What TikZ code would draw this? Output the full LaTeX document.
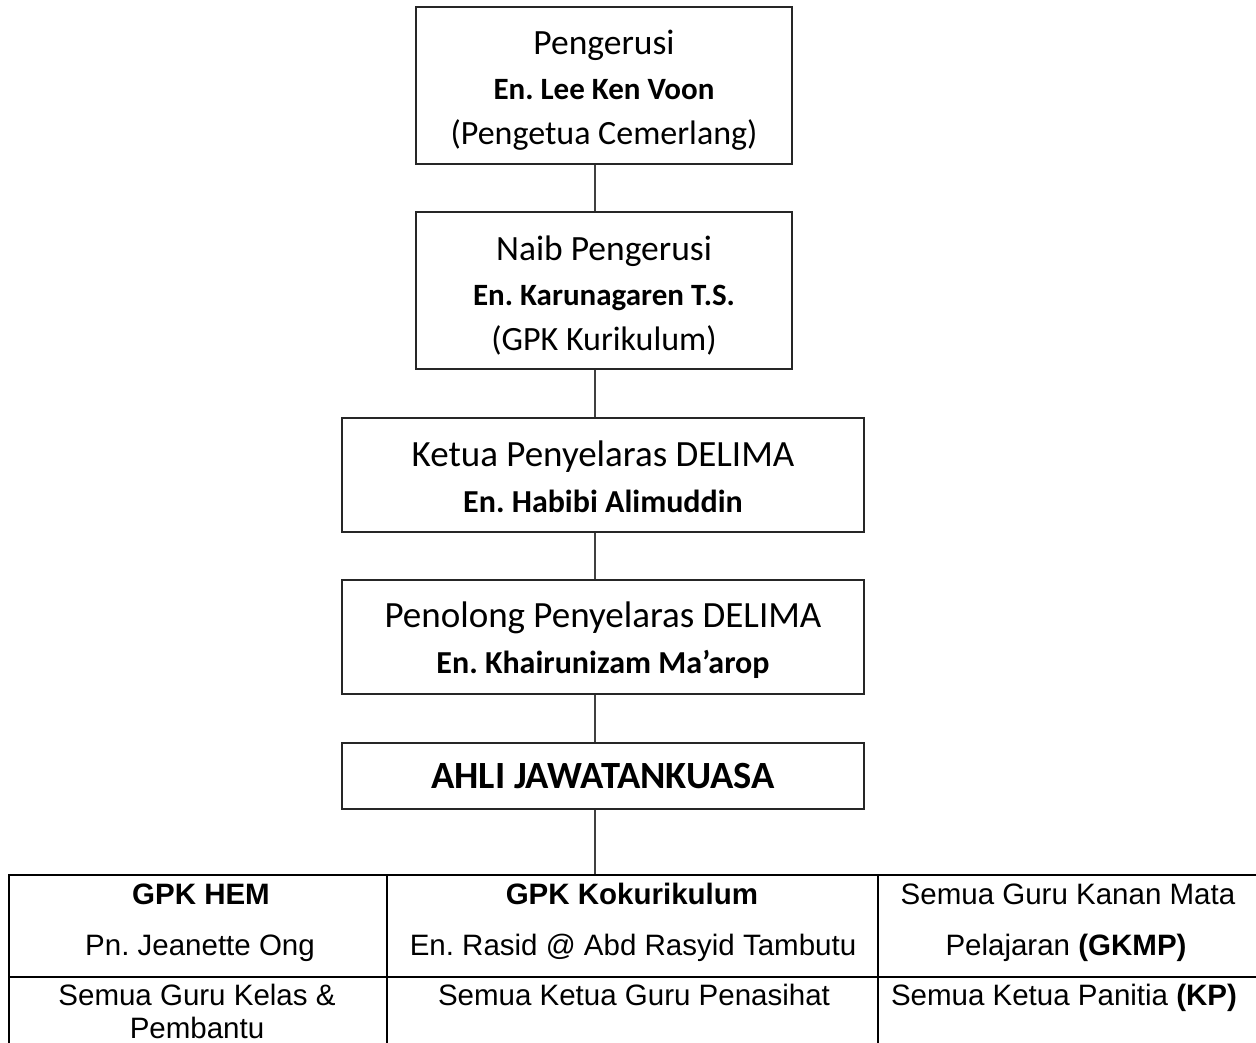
\documentclass[tikz,border=0pt]{standalone}
\usepackage{fontspec}
\setmainfont{Carlito}
\newfontfamily\tabfont{Liberation Sans}
\frenchspacing
\begin{document}
\frenchspacing
\begin{tikzpicture}[x=1pt,y=-1pt,
  box/.style={draw=black!85, line width=1.4pt, inner sep=0pt},
  btxt/.style={align=center, inner sep=0pt, font=\fontsize{31}{45}\selectfont},
  link/.style={draw=black!75, line width=1.2pt},
  cell/.style={draw=black, line width=2pt, inner sep=0pt},
  ttxt/.style={font=\tabfont\fontsize{29.5}{30}\selectfont, anchor=base, inner sep=0pt}]
\useasboundingbox (0,0) rectangle (1256,1043);
\clip (0,0) rectangle (1256,1043);
\fill[white] (0,0) rectangle (1256,1043);
\coordinate (lx) at (595,0);
% boxes
\node[box, minimum width=376, minimum height=157] (b1) at (604,85.5) {};
\node[btxt] (b1t) at (604,90)
  {{\fontsize{35.5}{45}\selectfont Pengerusi}\\ \textbf{En. Lee Ken Voon}\\ {\fontsize{34}{45}\selectfont (Pengetua Cemerlang)}};
\node[box, minimum width=376, minimum height=157] (b2) at (604,290.5) {};
\node[btxt] (b2t) at (604,295.5)
  {{\fontsize{35.5}{45}\selectfont Naib Pengerusi}\\ \textbf{En. Karunagaren T.S.}\\ {\fontsize{34}{45}\selectfont (GPK Kurikulum)}};
\node[box, minimum width=522, minimum height=114] (b3) at (603,475) {};
\node[btxt, font=\fontsize{32}{46}\selectfont] (b3t) at (603,476.5)
  {{\fontsize{37}{46}\selectfont Ketua Penyelaras DELIMA}\\ \textbf{En. Habibi Alimuddin}};
\node[box, minimum width=522, minimum height=114] (b4) at (603,637) {};
\node[btxt, font=\fontsize{32}{46}\selectfont] (b4t) at (603,640.5)
  {{\fontsize{37}{46}\selectfont Penolong Penyelaras DELIMA}\\ \textbf{En. Khairunizam Ma’arop}};
\node[box, minimum width=522, minimum height=66, font=\fontsize{38.5}{40}\selectfont\bfseries] (b5) at (603,776)
  {AHLI JAWATANKUASA};
% table cells
\node[cell, minimum width=378, minimum height=102] (c11) at (198,926) {};
\node[cell, minimum width=491, minimum height=102] (c12) at (632.5,926) {};
\node[cell, minimum width=384, minimum height=102] (c13) at (1070,926) {};
\node[cell, minimum width=378, minimum height=80] (c21) at (198,1017) {};
\node[cell, minimum width=491, minimum height=80] (c22) at (632.5,1017) {};
\node[cell, minimum width=384, minimum height=80] (c23) at (1070,1017) {};
% table texts
\node[ttxt] (t11a) at (201,904) {\bfseries GPK HEM};
\node[ttxt] (t11b) at (200,955) {Pn. Jeanette Ong};
\node[ttxt] (t12a) at (632,904) {\bfseries GPK Kokurikulum};
\node[ttxt] (t12b) at (633,955) {En. Rasid @ Abd Rasyid Tambutu};
\node[ttxt] (t13a) at (1068,904) {Semua Guru Kanan Mata};
\node[ttxt] (t13b) at (1066,955) {Pelajaran \textbf{(GKMP)}};
\node[ttxt] (t21a) at (197,1005) {Semua Guru Kelas \&};
\node[ttxt] (t21b) at (197,1038) {Pembantu};
\node[ttxt] (t22a) at (634,1005) {Semua Ketua Guru Penasihat};
\node[ttxt] (t23a) at (1064,1005) {Semua Ketua Panitia \textbf{(KP)}};
% connectors
\draw[link] (b1.south -| lx) -- (b2.north -| lx);
\draw[link] (b2.south -| lx) -- (b3.north -| lx);
\draw[link] (b3.south -| lx) -- (b4.north -| lx);
\draw[link] (b4.south -| lx) -- (b5.north -| lx);
\draw[link] (b5.south -| lx) -- (c12.north -| lx);
\end{tikzpicture}
\end{document}
